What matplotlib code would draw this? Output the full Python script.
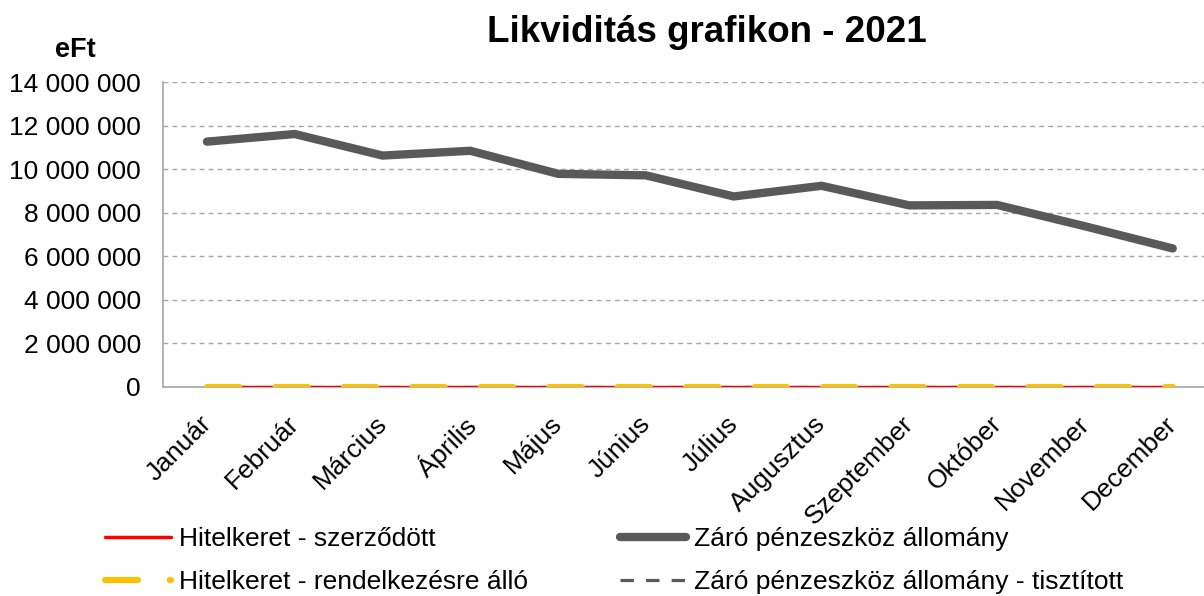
import matplotlib.pyplot as plt
import matplotlib.transforms as mtransforms
from matplotlib.lines import Line2D
from matplotlib.ticker import FuncFormatter

plt.rcParams['font.family'] = ['Liberation Sans', 'DejaVu Sans']

months = ['Január', 'Február', 'Március', 'Április', 'Május', 'Június',
          'Július', 'Augusztus', 'Szeptember', 'Október', 'November', 'December']
# values in eFt
hitelkeret_szerzodott = [0, 0, 0, 0, 0, 0, 0, 0, 0, 0, 0, 0]
hitelkeret_rendelkezesre = [0, 0, 0, 0, 0, 0, 0, 0, 0, 0, 0, 0]
zaro_penzeszkoz = [11270000, 11620000, 10630000, 10850000, 9790000, 9720000,
                   8750000, 9240000, 8340000, 8360000, 7380000, 6360000]
zaro_tisztitott = [0, 0, 0, 0, 0, 0, 0, 0, 0, 0, 0, 0]

fs = 19

fig = plt.figure(figsize=(12.04, 5.96), dpi=100)
ax = fig.add_axes([0.1354, 0.351, 0.8751, 0.511])

x = list(range(len(months)))
l_dash, = ax.plot(x, zaro_tisztitott, color='#595959', lw=2.3, ls=(0, (4.2, 3.8)),
                  label='Záró pénzeszköz állomány - tisztított', zorder=3)
l_red, = ax.plot(x, hitelkeret_szerzodott, color='#ff0000', lw=2.5,
                 solid_capstyle='round', label='Hitelkeret - szerződött', zorder=4)
l_yel, = ax.plot(x, hitelkeret_rendelkezesre, color='#ffc000', lw=4.4,
                 ls=(0, (5.3, 5.9)), dash_capstyle='round',
                 label='Hitelkeret - rendelkezésre álló', zorder=5)
l_grey, = ax.plot(x, zaro_penzeszkoz, color='#595959', lw=6,
                  solid_capstyle='round', solid_joinstyle='miter',
                  label='Záró pénzeszköz állomány', zorder=6)

ax.set_xlim(-0.5, 11.5)
ax.set_ylim(0, 14000000)
ax.set_yticks(range(0, 14000001, 2000000))
ax.yaxis.set_major_formatter(FuncFormatter(lambda v, p: f'{int(v):,}'.replace(',', ' ')))
ax.grid(axis='y', color='#a6a6a6', ls=(0, (3.5, 3)), lw=1)
ax.set_axisbelow(True)
for s in ['top', 'right']:
    ax.spines[s].set_visible(False)
for s in ['left', 'bottom']:
    ax.spines[s].set_color('#a6a6a6')
    ax.spines[s].set_linewidth(1.2)
ax.tick_params(axis='both', length=0, labelsize=fs, colors='black')
ax.tick_params(axis='y', pad=16)
ax.set_xticks(x)
ax.set_xticklabels(months, rotation=45, ha='right', va='top', rotation_mode='anchor')
ax.tick_params(axis='x', pad=12)
shift = mtransforms.ScaledTranslation(-0.08, -0.08, fig.dpi_scale_trans)
for lab in ax.get_xticklabels():
    lab.set_transform(lab.get_transform() + shift)

fig.text(0.587, 0.945, 'Likviditás grafikon - 2021', ha='center', va='center',
         fontsize=26.5, fontweight='bold')
fig.text(0.063, 0.916, 'eFt', ha='center', va='center', fontsize=19.5, fontweight='bold')

# legend proxy for the yellow dashed series (dash + dot like the reference)
yel_handle = Line2D([], [], color='#ffc000', lw=4.4, ls=(0, (5.4, 5.2)),
                    dash_capstyle='round')

leg_kw = dict(frameon=False, loc='upper left', fontsize=fs, handlelength=2.5,
              handletextpad=0.3, labelspacing=0.72, borderpad=0, borderaxespad=0)
fig.legend([l_red, yel_handle], [l_red.get_label(), l_yel.get_label()],
           bbox_to_anchor=(0.087, 0.115), **leg_kw)
fig.legend([l_grey, l_dash], [l_grey.get_label(), l_dash.get_label()],
           bbox_to_anchor=(0.515, 0.115), **leg_kw)

fig.savefig('out.png', dpi=100)
